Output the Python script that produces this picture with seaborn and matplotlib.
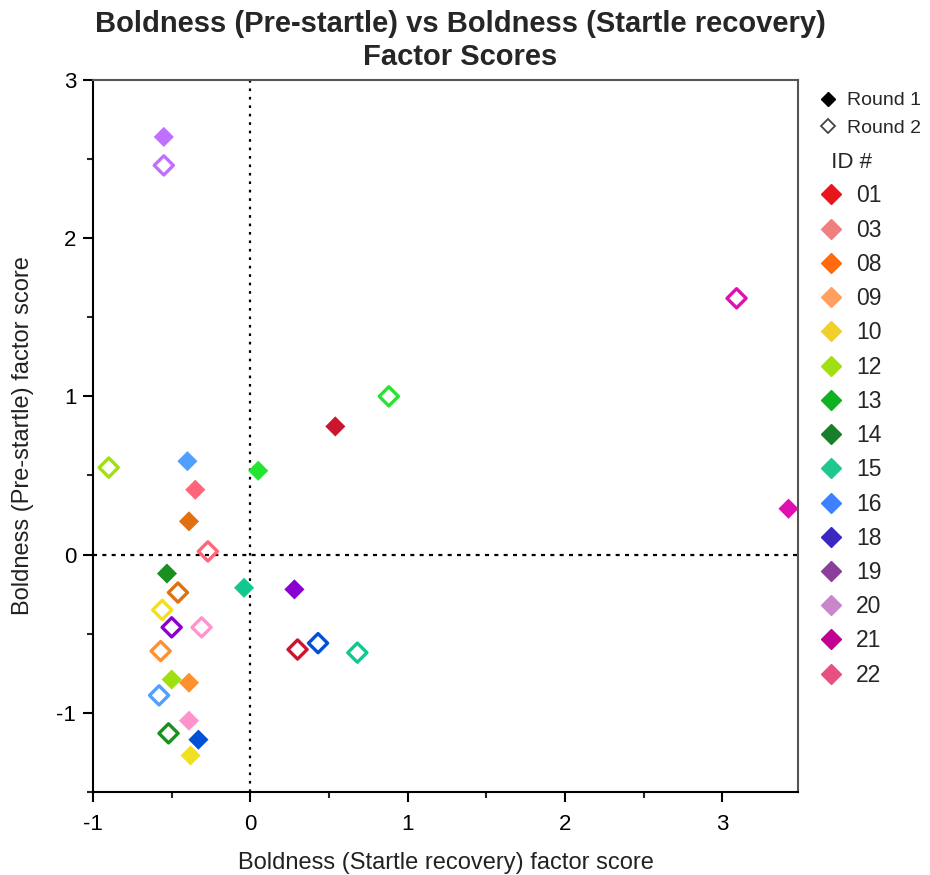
import matplotlib
matplotlib.use("Agg")
import matplotlib.pyplot as plt
from matplotlib.lines import Line2D
import seaborn as sns
import pandas as pd

ids = ["01", "03", "08", "09", "10", "12", "13", "14", "15", "16", "18", "19", "20", "21", "22"]
# Round 1 (filled) scores
r1_x = [0.54, -0.35, -0.39, -0.39, -0.38, -0.50, 0.05, -0.53, -0.04, -0.40, -0.33, 0.28, -0.55, 3.42, -0.39]
r1_y = [0.81, 0.41, 0.21, -0.81, -1.27, -0.79, 0.53, -0.12, -0.21, 0.59, -1.17, -0.22, 2.64, 0.29, -1.05]
# Round 2 (open) scores
r2_x = [0.30, -0.27, -0.46, -0.57, -0.56, -0.90, 0.88, -0.52, 0.68, -0.58, 0.43, -0.50, -0.55, 3.09, -0.31]
r2_y = [-0.60, 0.02, -0.24, -0.61, -0.35, 0.55, 1.00, -1.13, -0.62, -0.89, -0.56, -0.46, 2.46, 1.62, -0.46]

point_colors = ["#cc1530", "#ff6478", "#e07010", "#ff9030", "#f0e020", "#a0e010", "#22e530",
                "#1a9020", "#10c890", "#50a0ff", "#0050d8", "#8a00d0", "#c070ff", "#e010b0", "#ff94cc"]
legend_colors = ["#e8161b", "#f08080", "#ff6a10", "#ffa060", "#f0d030", "#a0e010", "#10b020",
                 "#1a7f2a", "#20c890", "#4080ff", "#3c28c0", "#8b3f98", "#c986c9", "#c00090", "#e85080"]

x_label = "Boldness (Startle recovery) factor score"
y_label = "Boldness (Pre-startle) factor score"
title = "Boldness (Pre-startle) vs Boldness (Startle recovery)\nFactor Scores"

sns.set_theme(style="white")
plt.rcParams["font.family"] = ["Liberation Sans", "DejaVu Sans"]
plt.rcParams["axes.unicode_minus"] = False

df1 = pd.DataFrame({"x": r1_x, "y": r1_y, "ID": ids})
df2 = pd.DataFrame({"x": r2_x, "y": r2_y, "ID": ids})
pal = dict(zip(ids, point_colors))

fig = plt.figure(figsize=(9.3, 8.75), dpi=100)
ax = fig.add_axes([0.1, 0.095, 0.758, 0.8136])

ax.axvline(0, color="black", lw=1.6, ls=(0, (1.2, 2.6)), zorder=1)
ax.axhline(0, color="black", lw=1.6, ls=(0, (1.8, 2.4)), zorder=1)

sns.scatterplot(data=df1, x="x", y="y", hue="ID", palette=pal, marker="D", s=105,
                linewidth=0, legend=False, ax=ax, zorder=3)
sns.scatterplot(data=df2, x="x", y="y", hue="ID", palette=pal, marker="D", s=95,
                linewidth=2.4, legend=False, ax=ax, zorder=3)
coll = ax.collections[-1]
fc = coll.get_facecolors()
coll.set_edgecolors(fc)
coll.set_facecolors("none")

ax.set_xlim(-1, 3.48)
ax.set_ylim(-1.5, 3)
ax.set_xticks([-1, 0, 1, 2, 3])
ax.set_yticks([-1, 0, 1, 2, 3])
ax.set_xticks([-0.5, 0.5, 1.5, 2.5], minor=True)
ax.set_yticks([-1.5, -0.5, 0.5, 1.5, 2.5], minor=True)
ax.tick_params(axis="both", which="major", direction="out", length=7, width=1.5,
               labelsize=16, colors="black", bottom=True, left=True)
ax.tick_params(axis="x", which="major", pad=9)
ax.tick_params(axis="y", which="major", pad=5)
ax.tick_params(axis="both", which="minor", direction="out", length=4, width=1.5,
               bottom=True, left=True)
ax.tick_params(axis="both", which="both", top=False, right=False)
for sp in ax.spines.values():
    sp.set_color("black")
    sp.set_linewidth(1.5)
ax.spines["top"].set_color("#555555")
ax.spines["right"].set_color("#555555")
ax.set_xlabel(x_label, fontsize=17, labelpad=12, color="#222222")
ax.set_ylabel(y_label, fontsize=17, labelpad=16, color="#222222")

fig.suptitle(title, fontsize=21, fontweight="bold", x=0.495, y=0.988, linespacing=1.2)

round_handles = [
    Line2D([], [], marker="D", ls="", color="black", markersize=7, label="Round 1"),
    Line2D([], [], marker="D", ls="", markerfacecolor="none", markeredgecolor="#444444",
           markeredgewidth=1.3, markersize=7, label="Round 2"),
]
leg1 = fig.legend(handles=round_handles, loc="upper left", bbox_to_anchor=(0.882, 0.895),
                  frameon=False, fontsize=14, handlelength=0.8, handletextpad=0.55,
                  labelspacing=0.5, borderaxespad=0, borderpad=0)
id_handles = [Line2D([], [], marker="D", ls="", color=c, markersize=10, label=i)
              for i, c in zip(ids, legend_colors)]
leg2 = fig.legend(handles=id_handles, title="  ID #", loc="upper left",
                  bbox_to_anchor=(0.881, 0.826), frameon=False, fontsize=16.5,
                  title_fontsize=16, handlelength=1.0, handletextpad=0.6,
                  labelspacing=0.49, borderaxespad=0, borderpad=0)
leg2._legend_box.align = "left"

fig.savefig("out.png", dpi=100)
